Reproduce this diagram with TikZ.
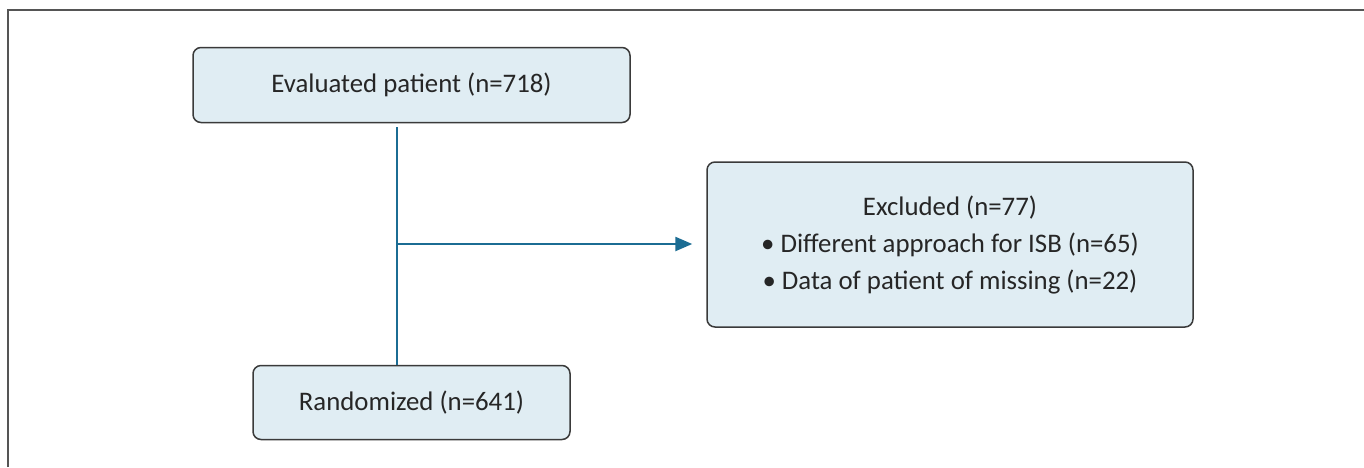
\documentclass[tikz,border=0pt]{standalone}
\usepackage{fontspec}
\setmainfont{Carlito}
\usetikzlibrary{arrows.meta}
\definecolor{boxfill}{HTML}{E0EDF3}
\definecolor{boxline}{HTML}{3A3A3A}
\definecolor{flowblue}{HTML}{1B6C93}
\definecolor{framegray}{HTML}{555555}
\begin{document}
\begin{tikzpicture}[x=0.5pt, y=-0.5pt,
	stagebox/.style={draw=boxline, fill=boxfill, line width=0.75pt, rounded corners=4pt, align=center, inner sep=0pt, text=black!85, font=\fontsize{13.4}{18.5}\selectfont},
	flowline/.style={draw=flowblue, line width=1.25pt}]
	\useasboundingbox (0,0) rectangle (1364,467);
	\draw[framegray, line width=1pt] (8,467) -- (8,9.5) -- (1364,9.5);

	\node[stagebox, minimum width=218.5pt, minimum height=37.5pt] (eval)  at (411.5,85) {Evaluated patient (n=718)};
	\node[stagebox, minimum width=243pt,   minimum height=82.5pt] (excl)  at (950,244.5)  {Excluded (n=77)\\\textbullet\ Different approach for ISB (n=65)\\\textbullet\ Data of patient of missing (n=22)};
	\node[stagebox, minimum width=158.5pt, minimum height=37pt]   (rand)  at (411.5,402.5)  {Randomized (n=641)};
	\coordinate (split) at (397,244);

	\path ([yshift=-2pt]eval.south -| split) edge [flowline] (rand.north -| split);
	\path (split) edge [flowline, -{Triangle[length=8.5pt, width=7pt]}, shorten >=7pt] (split -| excl.west);
\end{tikzpicture}
\end{document}
